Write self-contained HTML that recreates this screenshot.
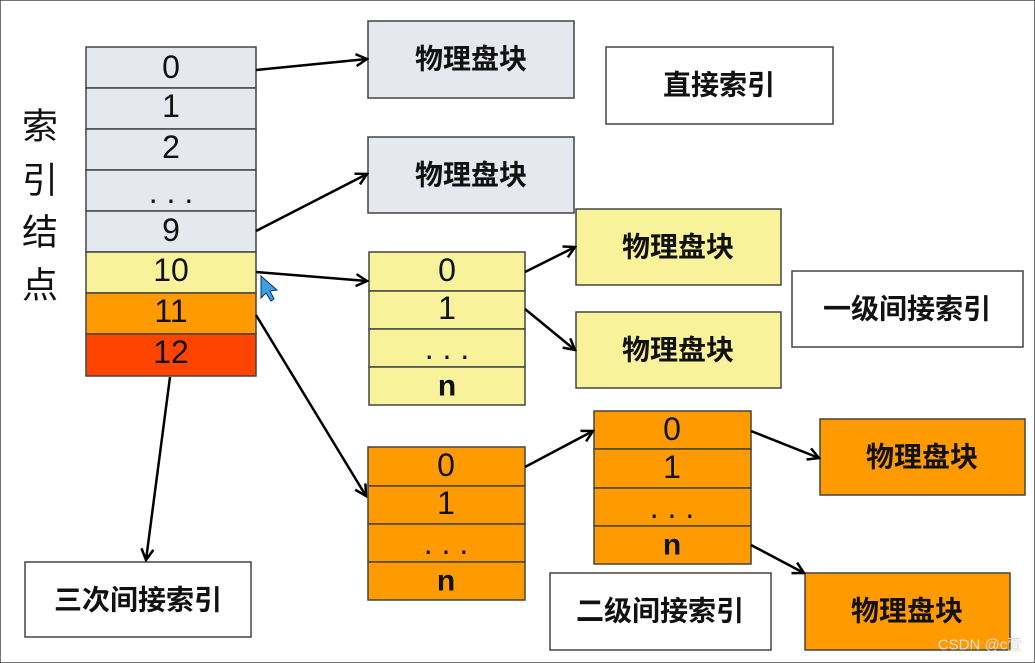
<!DOCTYPE html>
<html><head><meta charset="utf-8"><style>
body{margin:0;background:#fff;}
svg{display:block}
text{font-family:"Liberation Sans","Noto Sans CJK SC",sans-serif;fill:#111;text-anchor:middle;dominant-baseline:central}
.c{font-size:28px;font-weight:bold}
.n{font-size:32px}
rect{stroke:#444;stroke-width:1.5}
</style></head><body>
<svg width="1035" height="663" viewBox="0 0 1035 663" xmlns="http://www.w3.org/2000/svg">
<defs><marker id="a" markerWidth="14" markerHeight="14" refX="12" refY="7" orient="auto" markerUnits="userSpaceOnUse"><path d="M1,1 L12,7 L1,13" fill="none" stroke="#000" stroke-width="2.5"/></marker></defs>
<rect x="0" y="0" width="1035" height="663" fill="#fff" stroke="none"/>
<!-- main column -->
<g>
<rect x="86" y="47" width="170" height="41" fill="#e6e8ef"/>
<rect x="86" y="88" width="170" height="41" fill="#e6e8ef"/>
<rect x="86" y="129" width="170" height="41" fill="#e6e8ef"/>
<rect x="86" y="170" width="170" height="41" fill="#e6e8ef"/>
<rect x="86" y="211" width="170" height="41" fill="#e6e8ef"/>
<rect x="86" y="252" width="170" height="41" fill="#f8f29a"/>
<rect x="86" y="293" width="170" height="41" fill="#ff9a00"/>
<rect x="86" y="334" width="170" height="42" fill="#ff4400"/>
<text class="n" x="171" y="67">0</text>
<text class="n" x="171" y="106">1</text>
<text class="n" x="171" y="147">2</text>
<text class="n" x="171" y="192">. . .</text>
<text class="n" x="171" y="230">9</text>
<text class="n" x="171" y="270">10</text>
<text class="n" x="171" y="311">11</text>
<text class="n" x="171" y="352">12</text>
</g>
<g style="font-size:36px">
<text x="40" y="126" style="font-size:36px">索</text>
<text x="40" y="180" style="font-size:36px">引</text>
<text x="40" y="232" style="font-size:36px">结</text>
<text x="40" y="285" style="font-size:36px">点</text>
</g>
<!-- gray blocks -->
<rect x="368" y="21" width="206" height="77" fill="#e6e8ef"/><text class="c" x="471" y="59">物理盘块</text>
<rect x="368" y="137" width="206" height="76" fill="#e6e8ef"/><text class="c" x="471" y="175">物理盘块</text>
<rect x="606" y="47" width="227" height="77" fill="#fff"/><text class="c" x="719" y="85">直接索引</text>
<!-- yellow table -->
<rect x="369" y="252" width="156" height="39" fill="#f8f29a"/>
<rect x="369" y="291" width="156" height="38" fill="#f8f29a"/>
<rect x="369" y="329" width="156" height="38" fill="#f8f29a"/>
<rect x="369" y="367" width="156" height="38" fill="#f8f29a"/>
<text class="n" x="447" y="270">0</text><text class="n" x="447" y="308">1</text><text class="n" x="447" y="348">. . .</text><text class="n" x="447" y="386" style="font-weight:bold;font-size:30px">n</text>
<rect x="576" y="209" width="205" height="76" fill="#f8f29a"/><text class="c" x="678" y="247">物理盘块</text>
<rect x="576" y="312" width="205" height="76" fill="#f8f29a"/><text class="c" x="678" y="350">物理盘块</text>
<rect x="792" y="271" width="231" height="76" fill="#fff"/><text class="c" x="907" y="309">一级间接索引</text>
<!-- orange table 1 -->
<rect x="368" y="447" width="157" height="39" fill="#ff9a00"/>
<rect x="368" y="486" width="157" height="38" fill="#ff9a00"/>
<rect x="368" y="524" width="157" height="38" fill="#ff9a00"/>
<rect x="368" y="562" width="157" height="38" fill="#ff9a00"/>
<text class="n" x="446" y="465">0</text><text class="n" x="446" y="503">1</text><text class="n" x="446" y="543">. . .</text><text class="n" x="446" y="581" style="font-weight:bold;font-size:30px">n</text>
<!-- orange table 2 -->
<rect x="594" y="411" width="157" height="38" fill="#ff9a00"/>
<rect x="594" y="449" width="157" height="39" fill="#ff9a00"/>
<rect x="594" y="488" width="157" height="38" fill="#ff9a00"/>
<rect x="594" y="526" width="157" height="38" fill="#ff9a00"/>
<text class="n" x="672" y="429">0</text><text class="n" x="672" y="467">1</text><text class="n" x="672" y="507">. . .</text><text class="n" x="672" y="545" style="font-weight:bold;font-size:30px">n</text>
<rect x="820" y="419" width="205" height="76" fill="#ff9a00"/><text class="c" x="922" y="457">物理盘块</text>
<rect x="805" y="573" width="205" height="77" fill="#ff9a00"/><text class="c" x="907" y="611">物理盘块</text>
<rect x="550" y="573" width="221" height="77" fill="#fff"/><text class="c" x="660" y="611">二级间接索引</text>
<rect x="25" y="562" width="226" height="75" fill="#fff"/><text class="c" x="138" y="600">三次间接索引</text>
<!-- arrows -->
<g stroke="#000" stroke-width="2.5" fill="none" marker-end="url(#a)">
<line x1="256" y1="70" x2="367" y2="59"/>
<line x1="256" y1="231" x2="367" y2="174"/>
<line x1="256" y1="272" x2="367" y2="281"/>
<line x1="256" y1="315" x2="366" y2="496"/>
<line x1="170" y1="377" x2="146" y2="560"/>
<line x1="525" y1="272" x2="575" y2="247"/>
<line x1="525" y1="309" x2="575" y2="350"/>
<line x1="525" y1="467" x2="593" y2="431"/>
<line x1="751" y1="431" x2="819" y2="458"/>
<line x1="751" y1="545" x2="804" y2="573"/>
</g>
<path d="M261,276 L261,298 L266,293 L271,301 L274,299 L270,291 L277,290 Z" fill="#3aa0e0" stroke="#135" stroke-width="1"/>
<text x="980" y="645" style="font-size:15px;fill:#ddd">CSDN @c萱</text>
</svg>
</body></html>
